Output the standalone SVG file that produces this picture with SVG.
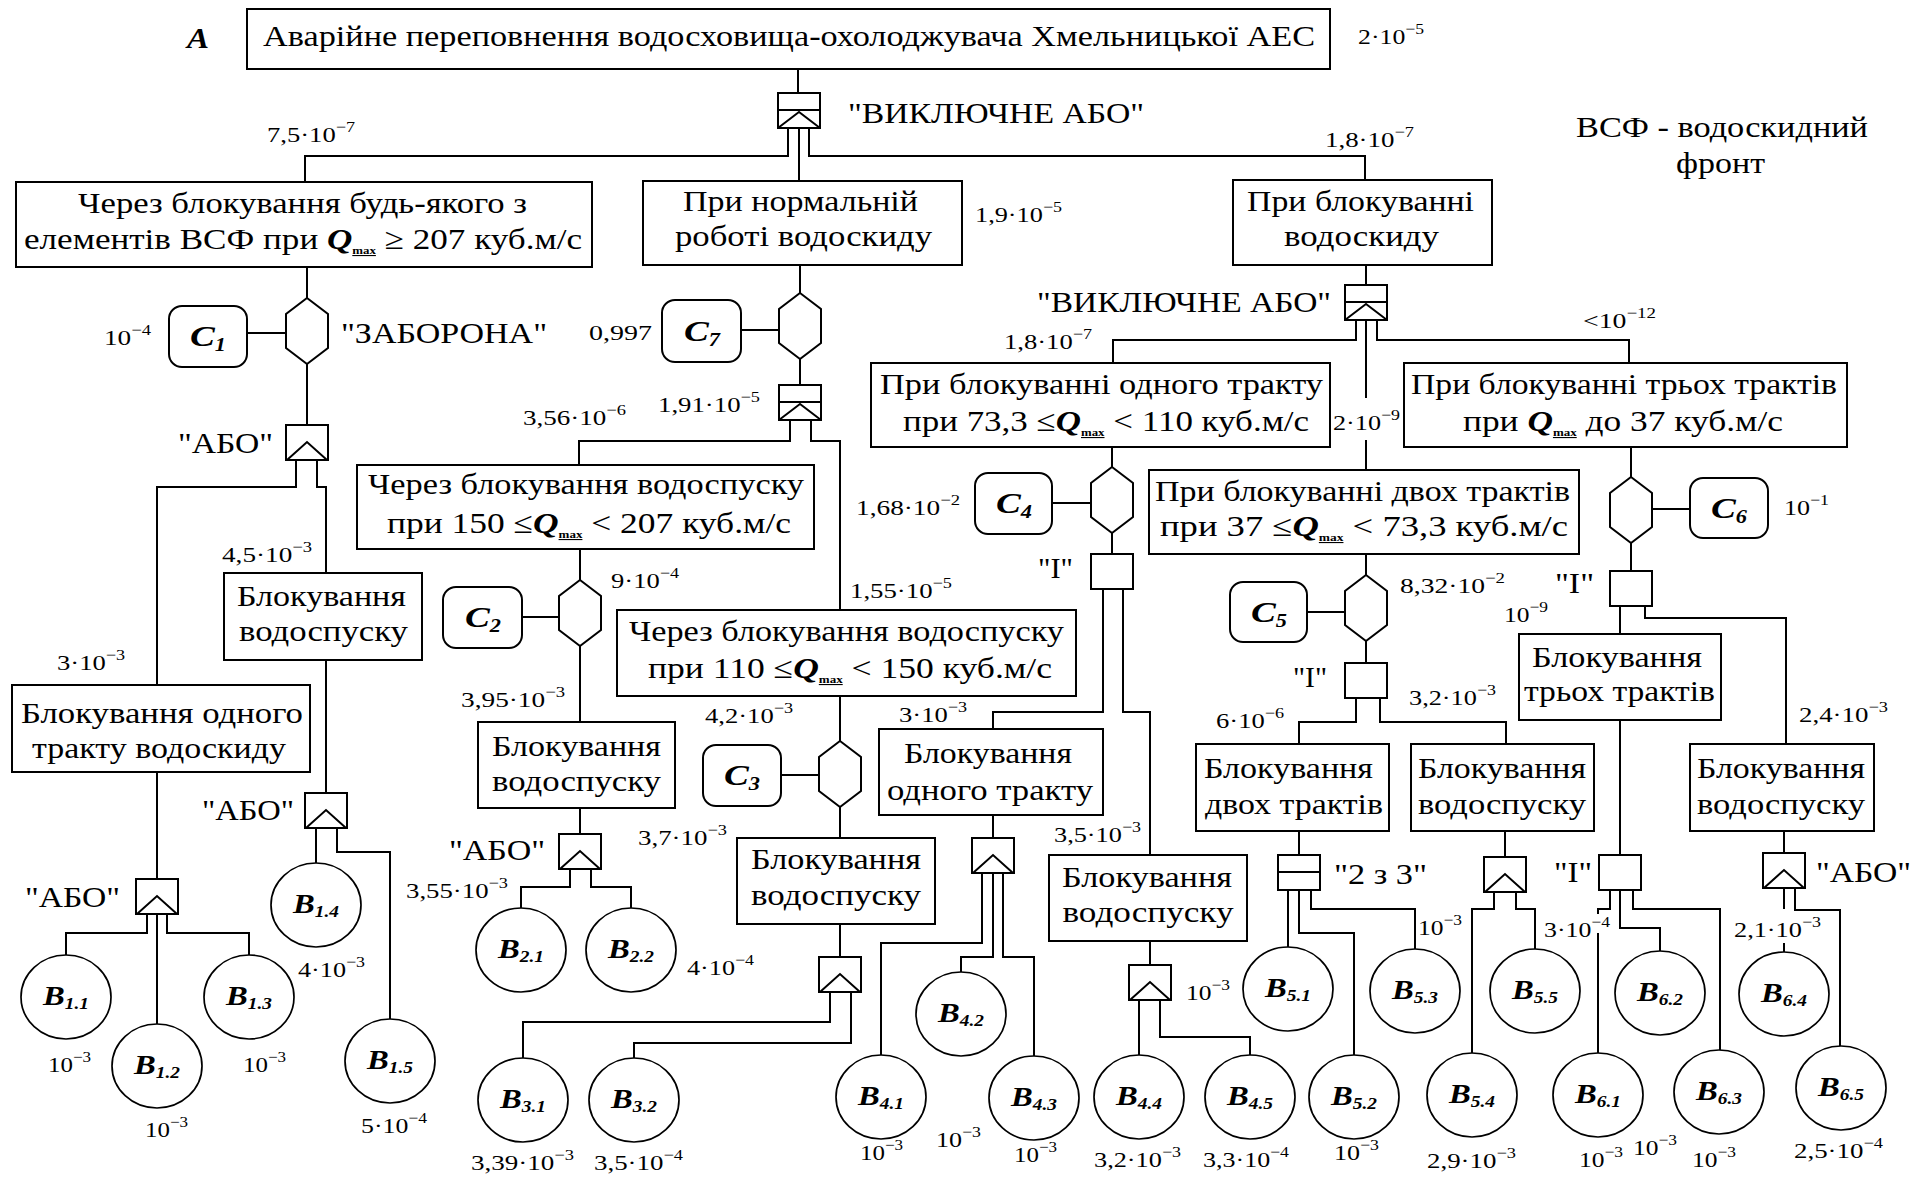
<svg xmlns="http://www.w3.org/2000/svg" width="1927" height="1178" viewBox="0 0 1927 1178">
<style>
.b{fill:#fff;stroke:#000;stroke-width:2}
.c{fill:#fff;stroke:#000;stroke-width:1.7}
.w{fill:none;stroke:#000;stroke-width:2}
text{font-family:"Liberation Serif","Times New Roman",serif;fill:#000}
.t{font-size:30px}
.n{font-size:22px}
.s{font-size:15px}
.bi{font-weight:bold;font-style:italic}
.cl{font-size:30px;font-weight:bold;font-style:italic}
.cs{font-size:18px}
.bl{font-size:27px;font-weight:bold;font-style:italic}
.bs{font-size:16px}
.mx{font-size:11px;font-weight:900;font-style:normal;text-decoration:underline}
</style>
<defs>
<g id="xor"><rect class="b" x="0" y="0" width="42" height="35"/><path class="w" d="M0,17H42M0,35L21,19L42,35" stroke-width="1.6"/></g>
<g id="or"><rect class="b" x="0" y="0" width="42" height="35"/><path class="w" d="M1,35L21,17L41,35" stroke-width="1.6"/></g>
<g id="and"><rect class="b" x="0" y="0" width="42" height="35"/></g>
<g id="k23"><rect class="b" x="0" y="0" width="42" height="35"/><path class="w" d="M0,17H42"/></g>
<polygon id="hex" class="b" points="21,0 42,16 42,50 21,66 0,50 0,16"/>
</defs>
<rect width="1927" height="1178" fill="#fff"/>

<g id="connectors" class="w">
<path d="M798,69V93"/>
<path d="M788,128V156H305V182"/>
<path d="M799,128V181"/>
<path d="M809,128V156H1365V180"/>
<path d="M307,267V298"/>
<path d="M247,333H286"/>
<path d="M307,364V425"/>
<path d="M296,460V487H157V685"/>
<path d="M317,460V487H326V573"/>
<path d="M326,660V793"/>
<path d="M316,828V863"/>
<path d="M337,828V852H390V1019"/>
<path d="M157,772V879"/>
<path d="M147,914V933H66V955"/>
<path d="M157,914V1024"/>
<path d="M167,914V933H249V955"/>
<path d="M800,265V293"/>
<path d="M741,330H779"/>
<path d="M800,359V385"/>
<path d="M790,420V441H579V465"/>
<path d="M811,420V441H840V610"/>
<path d="M580,549V580"/>
<path d="M522,617H559"/>
<path d="M580,646V722"/>
<path d="M580,808V834"/>
<path d="M570,869V887H521V908"/>
<path d="M591,869V887H631V908"/>
<path d="M840,696V741"/>
<path d="M781,775H819"/>
<path d="M840,807V838"/>
<path d="M840,924V957"/>
<path d="M830,992V1022H523V1058"/>
<path d="M851,992V1043H634V1058"/>
<path d="M1366,265V285"/>
<path d="M1356,320V340H1113V363"/>
<path d="M1366,320V398M1366,440V470"/>
<path d="M1377,320V340H1629V363"/>
<path d="M1112,447V467"/>
<path d="M1052,503H1091"/>
<path d="M1112,533V554"/>
<path d="M1103,589V712H993V729"/>
<path d="M1123,589V712H1150V855"/>
<path d="M993,815V838"/>
<path d="M982,873V943H881V1055"/>
<path d="M993,873V957H961V972"/>
<path d="M1003,873V957H1034V1056"/>
<path d="M1150,941V965"/>
<path d="M1139,1000V1055"/>
<path d="M1160,1000V1037H1250V1055"/>
<path d="M1366,554V575"/>
<path d="M1307,612H1345"/>
<path d="M1366,641V663"/>
<path d="M1356,698V722H1299V744"/>
<path d="M1380,698V722H1506V744"/>
<path d="M1299,831V855"/>
<path d="M1288,890V947"/>
<path d="M1299,890V933H1354V1055"/>
<path d="M1311,890V909H1415V949"/>
<path d="M1505,831V857"/>
<path d="M1494,892V909H1472V1053"/>
<path d="M1516,892V909H1535V949"/>
<path d="M1631,447V477"/>
<path d="M1653,509H1690"/>
<path d="M1631,543V571"/>
<path d="M1620,606V634"/>
<path d="M1645,606V618H1786V744"/>
<path d="M1620,720V855"/>
<path d="M1610,890V909H1598V914M1598,933V1053"/>
<path d="M1620,890V928H1660V951"/>
<path d="M1633,890V909H1720V1050"/>
<path d="M1784,831V853"/>
<path d="M1784,888V909M1784,943V952"/>
<path d="M1795,888V910H1840V1046"/>
</g>

<g id="top">
<rect class="b" x="247" y="9" width="1083" height="60"/>
<text class="t" x="789" y="46" text-anchor="middle" textLength="1052" lengthAdjust="spacingAndGlyphs">Аварійне переповнення водосховища-охолоджувача Хмельницької АЕС</text>
</g>
<text class="bi" x="187" y="48" font-size="29" textLength="22" lengthAdjust="spacingAndGlyphs">А</text>

<g id="xor1"><use href="#xor" x="778" y="93"/></g>
<g id="xor3"><use href="#xor" x="779" y="385"/></g>
<g id="xor2"><use href="#xor" x="1345" y="285"/></g>
<g id="or1"><use href="#or" x="286" y="425"/></g>
<g id="or14"><use href="#or" x="305" y="793"/></g>
<g id="or11"><use href="#or" x="136" y="879"/></g>
<g id="or2"><use href="#or" x="559" y="834"/></g>
<g id="or3"><use href="#or" x="819" y="957"/></g>
<g id="or4"><use href="#or" x="972" y="838"/></g>
<g id="or4b"><use href="#or" x="1129" y="965"/></g>
<g id="or5"><use href="#or" x="1484" y="857"/></g>
<g id="or6"><use href="#or" x="1763" y="853"/></g>
<g id="and4"><use href="#and" x="1091" y="554"/></g>
<g id="andc5"><use href="#and" x="1345" y="663"/></g>
<g id="andc6"><use href="#and" x="1610" y="571"/></g>
<g id="and6"><use href="#and" x="1599" y="855"/></g>
<g id="k2of3"><use href="#k23" x="1278" y="855"/></g>
<g id="hexc1"><use href="#hex" x="286" y="298"/></g>
<g id="hexc7"><use href="#hex" x="779" y="293"/></g>
<g id="hexc2"><use href="#hex" x="559" y="580"/></g>
<g id="hexc3"><use href="#hex" x="819" y="741"/></g>
<g id="hexc4"><use href="#hex" x="1091" y="467"/></g>
<g id="hexc5"><use href="#hex" x="1345" y="575"/></g>
<g id="hexc6"><use href="#hex" x="1610" y="477"/></g>

<g id="c1"><rect class="b" x="169" y="306" width="78" height="61" rx="13"/><text class="cl" x="208" y="346" text-anchor="middle" textLength="36" lengthAdjust="spacingAndGlyphs">C<tspan class="cs" dy="5">1</tspan></text></g>
<g id="c7"><rect class="b" x="662" y="300" width="79" height="62" rx="13"/><text class="cl" x="702" y="341" text-anchor="middle" textLength="36" lengthAdjust="spacingAndGlyphs">C<tspan class="cs" dy="5">7</tspan></text></g>
<g id="c2"><rect class="b" x="443" y="587" width="79" height="61" rx="13"/><text class="cl" x="483" y="627" text-anchor="middle" textLength="36" lengthAdjust="spacingAndGlyphs">C<tspan class="cs" dy="5">2</tspan></text></g>
<g id="c3"><rect class="b" x="703" y="745" width="78" height="61" rx="13"/><text class="cl" x="742" y="785" text-anchor="middle" textLength="36" lengthAdjust="spacingAndGlyphs">C<tspan class="cs" dy="5">3</tspan></text></g>
<g id="c4"><rect class="b" x="975" y="473" width="77" height="61" rx="13"/><text class="cl" x="1014" y="513" text-anchor="middle" textLength="36" lengthAdjust="spacingAndGlyphs">C<tspan class="cs" dy="5">4</tspan></text></g>
<g id="c5"><rect class="b" x="1230" y="582" width="77" height="60" rx="13"/><text class="cl" x="1269" y="622" text-anchor="middle" textLength="36" lengthAdjust="spacingAndGlyphs">C<tspan class="cs" dy="5">5</tspan></text></g>
<g id="c6"><rect class="b" x="1690" y="478" width="78" height="60" rx="13"/><text class="cl" x="1729" y="518" text-anchor="middle" textLength="36" lengthAdjust="spacingAndGlyphs">C<tspan class="cs" dy="5">6</tspan></text></g>

<g id="box1"><rect class="b" x="16" y="182" width="576" height="85"/>
<text class="t" x="302.5" y="213" text-anchor="middle" textLength="449" lengthAdjust="spacingAndGlyphs">Через блокування будь-якого з</text>
<text class="t" x="303" y="249" text-anchor="middle" textLength="558" lengthAdjust="spacingAndGlyphs">елементів ВСФ при  <tspan class="bi">Q</tspan><tspan class="mx" dy="5">max</tspan><tspan dy="-5"> ≥ 207 куб.м/с</tspan></text></g>
<g id="box2"><rect class="b" x="643" y="181" width="319" height="84"/>
<text class="t" x="800.5" y="211" text-anchor="middle" textLength="235" lengthAdjust="spacingAndGlyphs">При нормальній</text>
<text class="t" x="803.5" y="246" text-anchor="middle" textLength="257" lengthAdjust="spacingAndGlyphs">роботі водоскиду</text></g>
<g id="box3"><rect class="b" x="1233" y="180" width="259" height="85"/>
<text class="t" x="1360.5" y="211" text-anchor="middle" textLength="227" lengthAdjust="spacingAndGlyphs">При блокуванні</text>
<text class="t" x="1361.5" y="246" text-anchor="middle" textLength="155" lengthAdjust="spacingAndGlyphs">водоскиду</text></g>
<g id="box150"><rect class="b" x="357" y="465" width="457" height="84"/>
<text class="t" x="586" y="494" text-anchor="middle" textLength="436" lengthAdjust="spacingAndGlyphs">Через блокування водоспуску</text>
<text class="t" x="589" y="533" text-anchor="middle" textLength="404" lengthAdjust="spacingAndGlyphs">при 150 ≤<tspan class="bi">Q</tspan><tspan class="mx" dy="5">max</tspan><tspan dy="-5"> &lt; 207 куб.м/с</tspan></text></g>
<g id="box1tr"><rect class="b" x="871" y="363" width="459" height="84"/>
<text class="t" x="1101.5" y="394" text-anchor="middle" textLength="443" lengthAdjust="spacingAndGlyphs">При блокуванні одного тракту</text>
<text class="t" x="1106" y="431" text-anchor="middle" textLength="406" lengthAdjust="spacingAndGlyphs">при 73,3 ≤<tspan class="bi">Q</tspan><tspan class="mx" dy="5">max</tspan><tspan dy="-5"> &lt; 110 куб.м/с</tspan></text></g>
<g id="box3tr"><rect class="b" x="1404" y="363" width="443" height="84"/>
<text class="t" x="1624" y="394" text-anchor="middle" textLength="426" lengthAdjust="spacingAndGlyphs">При блокуванні трьох трактів</text>
<text class="t" x="1623" y="431" text-anchor="middle" textLength="320" lengthAdjust="spacingAndGlyphs">при <tspan class="bi">Q</tspan><tspan class="mx" dy="5">max</tspan><tspan dy="-5"> до 37 куб.м/с</tspan></text></g>
<g id="box2tr"><rect class="b" x="1149" y="470" width="430" height="84"/>
<text class="t" x="1362.5" y="501" text-anchor="middle" textLength="415" lengthAdjust="spacingAndGlyphs">При блокуванні двох трактів</text>
<text class="t" x="1364" y="536" text-anchor="middle" textLength="408" lengthAdjust="spacingAndGlyphs">при  37  ≤<tspan class="bi">Q</tspan><tspan class="mx" dy="5">max</tspan><tspan dy="-5"> &lt; 73,3 куб.м/с</tspan></text></g>
<g id="boxB1"><rect class="b" x="224" y="573" width="198" height="87"/>
<text class="t" x="321.5" y="606" text-anchor="middle" textLength="169" lengthAdjust="spacingAndGlyphs">Блокування</text>
<text class="t" x="323.5" y="641" text-anchor="middle" textLength="169" lengthAdjust="spacingAndGlyphs">водоспуску</text></g>
<g id="boxT1"><rect class="b" x="12" y="685" width="298" height="87"/>
<text class="t" x="162" y="723" text-anchor="middle" textLength="282" lengthAdjust="spacingAndGlyphs">Блокування одного</text>
<text class="t" x="159" y="758" text-anchor="middle" textLength="254" lengthAdjust="spacingAndGlyphs">тракту водоскиду</text></g>
<g id="boxB2"><rect class="b" x="478" y="722" width="197" height="86"/>
<text class="t" x="576.5" y="756" text-anchor="middle" textLength="169" lengthAdjust="spacingAndGlyphs">Блокування</text>
<text class="t" x="576.5" y="791" text-anchor="middle" textLength="169" lengthAdjust="spacingAndGlyphs">водоспуску</text></g>
<g id="box110"><rect class="b" x="617" y="610" width="459" height="86"/>
<text class="t" x="846.5" y="641" text-anchor="middle" textLength="435" lengthAdjust="spacingAndGlyphs">Через блокування водоспуску</text>
<text class="t" x="850" y="678" text-anchor="middle" textLength="404" lengthAdjust="spacingAndGlyphs">при 110 ≤<tspan class="bi">Q</tspan><tspan class="mx" dy="5">max</tspan><tspan dy="-5"> &lt; 150 куб.м/с</tspan></text></g>
<g id="boxT4"><rect class="b" x="879" y="729" width="224" height="86"/>
<text class="t" x="988" y="763" text-anchor="middle" textLength="168" lengthAdjust="spacingAndGlyphs">Блокування</text>
<text class="t" x="990" y="800" text-anchor="middle" textLength="206" lengthAdjust="spacingAndGlyphs">одного тракту</text></g>
<g id="boxB3"><rect class="b" x="737" y="838" width="198" height="86"/>
<text class="t" x="836" y="869" text-anchor="middle" textLength="170" lengthAdjust="spacingAndGlyphs">Блокування</text>
<text class="t" x="836" y="905" text-anchor="middle" textLength="170" lengthAdjust="spacingAndGlyphs">водоспуску</text></g>
<g id="boxB4"><rect class="b" x="1049" y="855" width="198" height="86"/>
<text class="t" x="1147" y="887" text-anchor="middle" textLength="170" lengthAdjust="spacingAndGlyphs">Блокування</text>
<text class="t" x="1148" y="922" text-anchor="middle" textLength="171" lengthAdjust="spacingAndGlyphs">водоспуску</text></g>
<g id="boxT5"><rect class="b" x="1196" y="744" width="193" height="87"/>
<text class="t" x="1288.5" y="778" text-anchor="middle" textLength="169" lengthAdjust="spacingAndGlyphs">Блокування</text>
<text class="t" x="1294" y="814" text-anchor="middle" textLength="178" lengthAdjust="spacingAndGlyphs">двох трактів</text></g>
<g id="boxB5"><rect class="b" x="1411" y="744" width="183" height="87"/>
<text class="t" x="1502" y="778" text-anchor="middle" textLength="168" lengthAdjust="spacingAndGlyphs">Блокування</text>
<text class="t" x="1502" y="814" text-anchor="middle" textLength="168" lengthAdjust="spacingAndGlyphs">водоспуску</text></g>
<g id="boxT6"><rect class="b" x="1519" y="634" width="202" height="86"/>
<text class="t" x="1617" y="667" text-anchor="middle" textLength="170" lengthAdjust="spacingAndGlyphs">Блокування</text>
<text class="t" x="1619.5" y="701" text-anchor="middle" textLength="191" lengthAdjust="spacingAndGlyphs">трьох трактів</text></g>
<g id="boxB6"><rect class="b" x="1690" y="744" width="184" height="87"/>
<text class="t" x="1781" y="778" text-anchor="middle" textLength="168" lengthAdjust="spacingAndGlyphs">Блокування</text>
<text class="t" x="1781" y="814" text-anchor="middle" textLength="168" lengthAdjust="spacingAndGlyphs">водоспуску</text></g>

<g id="b11"><ellipse class="c" cx="66" cy="997" rx="45" ry="42"/><text class="bl" x="66" y="1005" text-anchor="middle" textLength="46" lengthAdjust="spacingAndGlyphs">B<tspan class="bs" dy="4">1.1</tspan></text></g>
<g id="b12"><ellipse class="c" cx="157" cy="1066" rx="45" ry="42"/><text class="bl" x="157" y="1074" text-anchor="middle" textLength="46" lengthAdjust="spacingAndGlyphs">B<tspan class="bs" dy="4">1.2</tspan></text></g>
<g id="b13"><ellipse class="c" cx="249" cy="997" rx="45" ry="42"/><text class="bl" x="249" y="1005" text-anchor="middle" textLength="46" lengthAdjust="spacingAndGlyphs">B<tspan class="bs" dy="4">1.3</tspan></text></g>
<g id="b14"><ellipse class="c" cx="316" cy="905" rx="45" ry="42"/><text class="bl" x="316" y="913" text-anchor="middle" textLength="46" lengthAdjust="spacingAndGlyphs">B<tspan class="bs" dy="4">1.4</tspan></text></g>
<g id="b15"><ellipse class="c" cx="390" cy="1061" rx="45" ry="42"/><text class="bl" x="390" y="1069" text-anchor="middle" textLength="46" lengthAdjust="spacingAndGlyphs">B<tspan class="bs" dy="4">1.5</tspan></text></g>
<g id="b21"><ellipse class="c" cx="521" cy="950" rx="45" ry="42"/><text class="bl" x="521" y="958" text-anchor="middle" textLength="46" lengthAdjust="spacingAndGlyphs">B<tspan class="bs" dy="4">2.1</tspan></text></g>
<g id="b22"><ellipse class="c" cx="631" cy="950" rx="45" ry="42"/><text class="bl" x="631" y="958" text-anchor="middle" textLength="46" lengthAdjust="spacingAndGlyphs">B<tspan class="bs" dy="4">2.2</tspan></text></g>
<g id="b31"><ellipse class="c" cx="523" cy="1100" rx="45" ry="42"/><text class="bl" x="523" y="1108" text-anchor="middle" textLength="46" lengthAdjust="spacingAndGlyphs">B<tspan class="bs" dy="4">3.1</tspan></text></g>
<g id="b32"><ellipse class="c" cx="634" cy="1100" rx="45" ry="42"/><text class="bl" x="634" y="1108" text-anchor="middle" textLength="46" lengthAdjust="spacingAndGlyphs">B<tspan class="bs" dy="4">3.2</tspan></text></g>
<g id="b41"><ellipse class="c" cx="881" cy="1097" rx="45" ry="42"/><text class="bl" x="881" y="1105" text-anchor="middle" textLength="46" lengthAdjust="spacingAndGlyphs">B<tspan class="bs" dy="4">4.1</tspan></text></g>
<g id="b42"><ellipse class="c" cx="961" cy="1014" rx="45" ry="42"/><text class="bl" x="961" y="1022" text-anchor="middle" textLength="46" lengthAdjust="spacingAndGlyphs">B<tspan class="bs" dy="4">4.2</tspan></text></g>
<g id="b43"><ellipse class="c" cx="1034" cy="1098" rx="45" ry="42"/><text class="bl" x="1034" y="1106" text-anchor="middle" textLength="46" lengthAdjust="spacingAndGlyphs">B<tspan class="bs" dy="4">4.3</tspan></text></g>
<g id="b44"><ellipse class="c" cx="1139" cy="1097" rx="45" ry="42"/><text class="bl" x="1139" y="1105" text-anchor="middle" textLength="46" lengthAdjust="spacingAndGlyphs">B<tspan class="bs" dy="4">4.4</tspan></text></g>
<g id="b45"><ellipse class="c" cx="1250" cy="1097" rx="45" ry="42"/><text class="bl" x="1250" y="1105" text-anchor="middle" textLength="46" lengthAdjust="spacingAndGlyphs">B<tspan class="bs" dy="4">4.5</tspan></text></g>
<g id="b51"><ellipse class="c" cx="1288" cy="989" rx="45" ry="42"/><text class="bl" x="1288" y="997" text-anchor="middle" textLength="46" lengthAdjust="spacingAndGlyphs">B<tspan class="bs" dy="4">5.1</tspan></text></g>
<g id="b52"><ellipse class="c" cx="1354" cy="1097" rx="45" ry="42"/><text class="bl" x="1354" y="1105" text-anchor="middle" textLength="46" lengthAdjust="spacingAndGlyphs">B<tspan class="bs" dy="4">5.2</tspan></text></g>
<g id="b53"><ellipse class="c" cx="1415" cy="991" rx="45" ry="42"/><text class="bl" x="1415" y="999" text-anchor="middle" textLength="46" lengthAdjust="spacingAndGlyphs">B<tspan class="bs" dy="4">5.3</tspan></text></g>
<g id="b54"><ellipse class="c" cx="1472" cy="1095" rx="45" ry="42"/><text class="bl" x="1472" y="1103" text-anchor="middle" textLength="46" lengthAdjust="spacingAndGlyphs">B<tspan class="bs" dy="4">5.4</tspan></text></g>
<g id="b55"><ellipse class="c" cx="1535" cy="991" rx="45" ry="42"/><text class="bl" x="1535" y="999" text-anchor="middle" textLength="46" lengthAdjust="spacingAndGlyphs">B<tspan class="bs" dy="4">5.5</tspan></text></g>
<g id="b61"><ellipse class="c" cx="1598" cy="1095" rx="45" ry="42"/><text class="bl" x="1598" y="1103" text-anchor="middle" textLength="46" lengthAdjust="spacingAndGlyphs">B<tspan class="bs" dy="4">6.1</tspan></text></g>
<g id="b62"><ellipse class="c" cx="1660" cy="993" rx="45" ry="42"/><text class="bl" x="1660" y="1001" text-anchor="middle" textLength="46" lengthAdjust="spacingAndGlyphs">B<tspan class="bs" dy="4">6.2</tspan></text></g>
<g id="b63"><ellipse class="c" cx="1719" cy="1092" rx="45" ry="42"/><text class="bl" x="1719" y="1100" text-anchor="middle" textLength="46" lengthAdjust="spacingAndGlyphs">B<tspan class="bs" dy="4">6.3</tspan></text></g>
<g id="b64"><ellipse class="c" cx="1784" cy="994" rx="45" ry="42"/><text class="bl" x="1784" y="1002" text-anchor="middle" textLength="46" lengthAdjust="spacingAndGlyphs">B<tspan class="bs" dy="4">6.4</tspan></text></g>
<g id="b65"><ellipse class="c" cx="1841" cy="1088" rx="45" ry="42"/><text class="bl" x="1841" y="1096" text-anchor="middle" textLength="46" lengthAdjust="spacingAndGlyphs">B<tspan class="bs" dy="4">6.5</tspan></text></g>

<g id="gate-labels" class="t">
<text x="848" y="123" textLength="296" lengthAdjust="spacingAndGlyphs">"ВИКЛЮЧНЕ АБО"</text>
<text x="1037" y="312" textLength="294" lengthAdjust="spacingAndGlyphs">"ВИКЛЮЧНЕ АБО"</text>
<text x="341" y="343" textLength="206" lengthAdjust="spacingAndGlyphs">"ЗАБОРОНА"</text>
<text x="178" y="453" textLength="95" lengthAdjust="spacingAndGlyphs">"АБО"</text>
<text x="202" y="820" textLength="92" lengthAdjust="spacingAndGlyphs">"АБО"</text>
<text x="25" y="907" textLength="95" lengthAdjust="spacingAndGlyphs">"АБО"</text>
<text x="449" y="860" textLength="96" lengthAdjust="spacingAndGlyphs">"АБО"</text>
<text x="1038" y="578" textLength="35" lengthAdjust="spacingAndGlyphs">"І"</text>
<text x="1555" y="593" textLength="39" lengthAdjust="spacingAndGlyphs">"І"</text>
<text x="1293" y="687" textLength="34" lengthAdjust="spacingAndGlyphs">"І"</text>
<text x="1334" y="884" textLength="93" lengthAdjust="spacingAndGlyphs">"2 з 3"</text>
<text x="1554" y="882" textLength="38" lengthAdjust="spacingAndGlyphs">"І"</text>
<text x="1816" y="882" textLength="95" lengthAdjust="spacingAndGlyphs">"АБО"</text>
<text x="1576" y="137" textLength="292" lengthAdjust="spacingAndGlyphs">ВСФ - водоскидний</text>
<text x="1676" y="173" textLength="89" lengthAdjust="spacingAndGlyphs">фронт</text>
</g>

<g id="probs" class="n">
<text x="1358" y="44" textLength="66" lengthAdjust="spacingAndGlyphs">2·10<tspan class="s" dy="-10">−5</tspan></text>
<text x="267" y="142" textLength="88" lengthAdjust="spacingAndGlyphs">7,5·10<tspan class="s" dy="-10">−7</tspan></text>
<text x="1325" y="147" textLength="89" lengthAdjust="spacingAndGlyphs">1,8·10<tspan class="s" dy="-10">−7</tspan></text>
<text x="975" y="222" textLength="87" lengthAdjust="spacingAndGlyphs">1,9·10<tspan class="s" dy="-10">−5</tspan></text>
<text x="104" y="345" textLength="47" lengthAdjust="spacingAndGlyphs">10<tspan class="s" dy="-10">−4</tspan></text>
<text x="589" y="340" textLength="63" lengthAdjust="spacingAndGlyphs">0,997</text>
<text x="1004" y="349" textLength="88" lengthAdjust="spacingAndGlyphs">1,8·10<tspan class="s" dy="-10">−7</tspan></text>
<text x="1583" y="328" textLength="73" lengthAdjust="spacingAndGlyphs">&lt;10<tspan class="s" dy="-10">−12</tspan></text>
<text x="658" y="412" textLength="102" lengthAdjust="spacingAndGlyphs">1,91·10<tspan class="s" dy="-10">−5</tspan></text>
<text x="523" y="425" textLength="103" lengthAdjust="spacingAndGlyphs">3,56·10<tspan class="s" dy="-10">−6</tspan></text>
<text x="1333" y="430" textLength="67" lengthAdjust="spacingAndGlyphs">2·10<tspan class="s" dy="-10">−9</tspan></text>
<text x="856" y="515" textLength="104" lengthAdjust="spacingAndGlyphs">1,68·10<tspan class="s" dy="-10">−2</tspan></text>
<text x="1784" y="515" textLength="45" lengthAdjust="spacingAndGlyphs">10<tspan class="s" dy="-10">−1</tspan></text>
<text x="222" y="562" textLength="90" lengthAdjust="spacingAndGlyphs">4,5·10<tspan class="s" dy="-10">−3</tspan></text>
<text x="611" y="588" textLength="68" lengthAdjust="spacingAndGlyphs">9·10<tspan class="s" dy="-10">−4</tspan></text>
<text x="850" y="598" textLength="102" lengthAdjust="spacingAndGlyphs">1,55·10<tspan class="s" dy="-10">−5</tspan></text>
<text x="1400" y="593" textLength="105" lengthAdjust="spacingAndGlyphs">8,32·10<tspan class="s" dy="-10">−2</tspan></text>
<text x="1504" y="622" textLength="44" lengthAdjust="spacingAndGlyphs">10<tspan class="s" dy="-10">−9</tspan></text>
<text x="57" y="670" textLength="68" lengthAdjust="spacingAndGlyphs">3·10<tspan class="s" dy="-10">−3</tspan></text>
<text x="461" y="707" textLength="104" lengthAdjust="spacingAndGlyphs">3,95·10<tspan class="s" dy="-10">−3</tspan></text>
<text x="705" y="723" textLength="88" lengthAdjust="spacingAndGlyphs">4,2·10<tspan class="s" dy="-10">−3</tspan></text>
<text x="899" y="722" textLength="68" lengthAdjust="spacingAndGlyphs">3·10<tspan class="s" dy="-10">−3</tspan></text>
<text x="1216" y="728" textLength="68" lengthAdjust="spacingAndGlyphs">6·10<tspan class="s" dy="-10">−6</tspan></text>
<text x="1409" y="705" textLength="87" lengthAdjust="spacingAndGlyphs">3,2·10<tspan class="s" dy="-10">−3</tspan></text>
<text x="1799" y="722" textLength="89" lengthAdjust="spacingAndGlyphs">2,4·10<tspan class="s" dy="-10">−3</tspan></text>
<text x="638" y="845" textLength="89" lengthAdjust="spacingAndGlyphs">3,7·10<tspan class="s" dy="-10">−3</tspan></text>
<text x="1054" y="842" textLength="87" lengthAdjust="spacingAndGlyphs">3,5·10<tspan class="s" dy="-10">−3</tspan></text>
<text x="406" y="898" textLength="102" lengthAdjust="spacingAndGlyphs">3,55·10<tspan class="s" dy="-10">−3</tspan></text>
<text x="687" y="975" textLength="67" lengthAdjust="spacingAndGlyphs">4·10<tspan class="s" dy="-10">−4</tspan></text>
<text x="298" y="977" textLength="67" lengthAdjust="spacingAndGlyphs">4·10<tspan class="s" dy="-10">−3</tspan></text>
<text x="1186" y="1000" textLength="44" lengthAdjust="spacingAndGlyphs">10<tspan class="s" dy="-10">−3</tspan></text>
<text x="1418" y="935" textLength="44" lengthAdjust="spacingAndGlyphs">10<tspan class="s" dy="-10">−3</tspan></text>
<text x="1544" y="937" textLength="66" lengthAdjust="spacingAndGlyphs">3·10<tspan class="s" dy="-10">−4</tspan></text>
<text x="1734" y="937" textLength="87" lengthAdjust="spacingAndGlyphs">2,1·10<tspan class="s" dy="-10">−3</tspan></text>
<text x="48" y="1072" textLength="43" lengthAdjust="spacingAndGlyphs">10<tspan class="s" dy="-10">−3</tspan></text>
<text x="243" y="1072" textLength="43" lengthAdjust="spacingAndGlyphs">10<tspan class="s" dy="-10">−3</tspan></text>
<text x="145" y="1137" textLength="43" lengthAdjust="spacingAndGlyphs">10<tspan class="s" dy="-10">−3</tspan></text>
<text x="361" y="1133" textLength="66" lengthAdjust="spacingAndGlyphs">5·10<tspan class="s" dy="-10">−4</tspan></text>
<text x="471" y="1170" textLength="103" lengthAdjust="spacingAndGlyphs">3,39·10<tspan class="s" dy="-10">−3</tspan></text>
<text x="594" y="1170" textLength="89" lengthAdjust="spacingAndGlyphs">3,5·10<tspan class="s" dy="-10">−4</tspan></text>
<text x="860" y="1160" textLength="43" lengthAdjust="spacingAndGlyphs">10<tspan class="s" dy="-10">−3</tspan></text>
<text x="936" y="1147" textLength="45" lengthAdjust="spacingAndGlyphs">10<tspan class="s" dy="-10">−3</tspan></text>
<text x="1014" y="1162" textLength="43" lengthAdjust="spacingAndGlyphs">10<tspan class="s" dy="-10">−3</tspan></text>
<text x="1094" y="1167" textLength="87" lengthAdjust="spacingAndGlyphs">3,2·10<tspan class="s" dy="-10">−3</tspan></text>
<text x="1203" y="1167" textLength="86" lengthAdjust="spacingAndGlyphs">3,3·10<tspan class="s" dy="-10">−4</tspan></text>
<text x="1334" y="1160" textLength="45" lengthAdjust="spacingAndGlyphs">10<tspan class="s" dy="-10">−3</tspan></text>
<text x="1427" y="1168" textLength="89" lengthAdjust="spacingAndGlyphs">2,9·10<tspan class="s" dy="-10">−3</tspan></text>
<text x="1579" y="1167" textLength="44" lengthAdjust="spacingAndGlyphs">10<tspan class="s" dy="-10">−3</tspan></text>
<text x="1633" y="1155" textLength="44" lengthAdjust="spacingAndGlyphs">10<tspan class="s" dy="-10">−3</tspan></text>
<text x="1692" y="1167" textLength="44" lengthAdjust="spacingAndGlyphs">10<tspan class="s" dy="-10">−3</tspan></text>
<text x="1794" y="1158" textLength="89" lengthAdjust="spacingAndGlyphs">2,5·10<tspan class="s" dy="-10">−4</tspan></text>
</g>
</svg>
